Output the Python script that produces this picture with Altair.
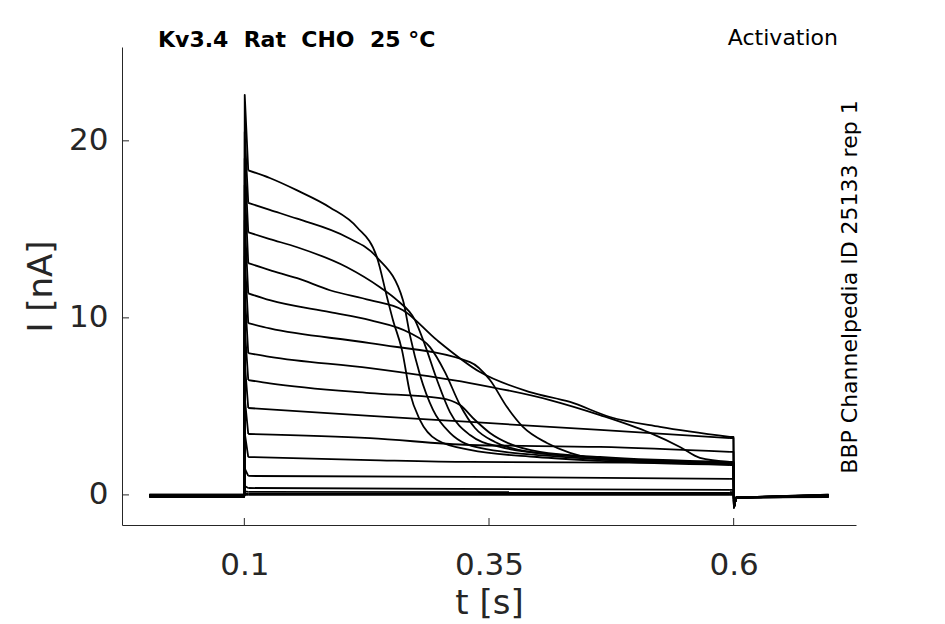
import altair as alt
import pandas as pd

# ---------------- data ----------------
x_ticks = [0.1, 0.35, 0.6]
y_ticks = [0, 10, 20]

title_left = "Kv3.4 \u00a0Rat \u00a0CHO \u00a025 °C"
title_right = "Activation"
side_label = "BBP Channelpedia ID 25133 rep 1"

# holding level of each sweep before and after the pulse
t_pre = [0.003, 0.0998]
holding = [-0.12, -0.08, -0.05, -0.02, 0.0, 0.02, -0.1, -0.06, -0.04, 0.01, -0.07, -0.03, -0.09, 0.0, -0.05, -0.11]
t_on = 0.1
t_peak = 0.1004
# tail after the pulse
t_post = [0.5998, 0.6003, 0.6025, 0.697]
i_dip = [-0.7, -0.15]

# capacitive peak of each sweep
peaks = [22.6, 20.5, 19.0, 17.5, 15.5, 13.5, 11.5, 9.5, 7.5, 5.5, 3.5, 1.5, 0.5, 0.2, 0.06, 0.0]

# sweeps during the pulse (time in s, current in nA)
t1 = [0.104, 0.126, 0.154, 0.1875, 0.2151, 0.2355, 0.2458, 0.2519, 0.2611, 0.2693, 0.2795, 0.2969, 0.3306, 0.399, 0.4634, 0.5962]
i1 = [18.33, 17.9, 17.2, 16.24, 15.12, 13.42, 11.17, 9.87, 8.18, 5.75, 4.23, 3.10, 2.54, 2.14, 1.92, 1.69]

t2 = [0.104, 0.126, 0.154, 0.2049, 0.2355, 0.2621, 0.2693, 0.2795, 0.2928, 0.3101, 0.3408, 0.4123, 0.5962]
i2 = [16.5, 16.1, 15.6, 14.55, 13.42, 11.0, 9.0, 6.77, 4.8, 3.5, 2.65, 2.2, 1.75]

t3 = [0.104, 0.126, 0.154, 0.2049, 0.2386, 0.2560, 0.2744, 0.2846, 0.2969, 0.3101, 0.3306, 0.3612, 0.4225, 0.5962]
i3 = [14.83, 14.45, 13.99, 12.86, 11.73, 11.0, 9.87, 8.46, 6.49, 4.68, 3.38, 2.71, 2.26, 1.80]

t4 = [0.104, 0.126, 0.154, 0.1875, 0.2284, 0.2621, 0.2969, 0.3408, 0.3919, 0.4328, 0.4736, 0.5247, 0.5962]
i4 = [13.09, 12.7, 12.24, 11.56, 11.0, 10.43, 8.74, 6.94, 5.81, 5.25, 4.40, 3.84, 3.27]

t5 = [0.104, 0.126, 0.1875, 0.2284, 0.2693, 0.2897, 0.3050, 0.3204, 0.3357, 0.3561, 0.3919, 0.4634, 0.5962]
i5 = [11.39, 11.0, 10.32, 9.87, 9.14, 8.35, 6.94, 5.08, 3.78, 2.99, 2.43, 2.09, 1.75]

t6 = [0.104, 0.126, 0.2284, 0.3306, 0.3510, 0.3684, 0.3847, 0.4092, 0.4328, 0.4736, 0.5962]
i6 = [9.70, 9.4, 8.57, 7.50, 6.49, 4.96, 3.84, 2.93, 2.37, 1.97, 1.80]

t7 = [0.104, 0.126, 0.2284, 0.3306, 0.4123, 0.4634, 0.5145, 0.5451, 0.5655, 0.5962]
i7 = [8.01, 7.8, 7.16, 6.32, 5.36, 4.51, 3.50, 2.71, 2.09, 1.86]

t8 = [0.104, 0.126, 0.2284, 0.2999, 0.3204, 0.3357, 0.351, 0.3714, 0.4021, 0.4634, 0.5962]
i8 = [6.49, 6.3, 5.75, 5.47, 5.08, 4.23, 3.5, 2.88, 2.43, 2.14, 1.86]

t9 = [0.104, 0.2284, 0.3306, 0.4634, 0.5962]
i9 = [4.91, 4.46, 4.12, 3.67, 3.21]

t10 = [0.104, 0.2284, 0.3306, 0.4634, 0.5962]
i10 = [3.44, 3.21, 2.82, 2.71, 2.43]

t11 = [0.104, 0.2284, 0.3306, 0.5962]
i11 = [2.14, 1.97, 1.86, 1.80]

t12 = [0.104, 0.3306, 0.5962]
i12 = [1.07, 1.02, 0.90]

t13 = [0.104, 0.5962]
i13 = [0.39, 0.28]

t14 = [0.104, 0.5962]
i14 = [0.17, 0.15]

t15 = [0.104, 0.5962]
i15 = [0.06, 0.05]

t16 = [0.104, 0.5962]
i16 = [0.0, 0.0]

sweeps_t = [t1, t2, t3, t4, t5, t6, t7, t8, t9, t10, t11, t12, t13, t14, t15, t16]
sweeps_i = [i1, i2, i3, i4, i5, i6, i7, i8, i9, i10, i11, i12, i13, i14, i15, i16]

# ---------------- build the tables ----------------
onset_rows, pulse_rows, tail_rows = [], [], []
for k, (ts, cs) in enumerate(zip(sweeps_t, sweeps_i)):
    h = holding[k]
    # before the pulse and capacitive transient
    for s, (a, b) in enumerate(zip(t_pre + [t_on, t_peak, ts[0]], [h, h, 0.0, peaks[k], cs[0]])):
        onset_rows.append({"trace": k, "seq": s, "t": a, "i": b})
    # the pulse itself
    for s, (a, b) in enumerate(zip(ts, cs)):
        pulse_rows.append({"trace": k, "seq": s, "t": a, "i": b})
    # end of the pulse and tail
    for s, (a, b) in enumerate(zip([ts[-1]] + t_post, [cs[-1], cs[-1]] + i_dip + [h])):
        tail_rows.append({"trace": k, "seq": s, "t": a, "i": b})

W, H = 734, 478
xs = alt.Scale(domain=[-0.025, 0.725], nice=False, zero=False)
ys = alt.Scale(domain=[-1.7, 25.3], nice=False, zero=False)

xenc = alt.X("t:Q", scale=xs, axis=alt.Axis(values=x_ticks, format="~g", title="t [s]",
                                            labelPadding=25, titlePadding=6))
yenc = alt.Y("i:Q", scale=ys, axis=alt.Axis(values=y_ticks, format="~g", title="I [nA]",
                                            labelPadding=14, titlePadding=10))


def sweep_layer(rows, interp):
    return alt.Chart(pd.DataFrame(rows)).mark_line(
        color="black", strokeWidth=1.8, strokeJoin="round", interpolate=interp, clip=True
    ).encode(x=xenc, y=yenc, detail="trace:N", order="seq:Q")


onset = sweep_layer(onset_rows, "linear")
pulse = sweep_layer(pulse_rows, "monotone")
tail = sweep_layer(tail_rows, "linear")

xt = alt.Chart(pd.DataFrame({"t": x_ticks})).mark_rule(color="#262626", strokeWidth=1).encode(
    x=alt.X("t:Q", scale=xs), y=alt.value(H - 7), y2=alt.value(H)
)
yt = alt.Chart(pd.DataFrame({"i": y_ticks})).mark_rule(color="#262626", strokeWidth=1).encode(
    y=alt.Y("i:Q", scale=ys), x=alt.value(0), x2=alt.value(7)
)

tl = alt.Chart(pd.DataFrame({"s": [title_left]})).mark_text(
    align="left", baseline="middle", fontSize=22, fontWeight="bold", font="DejaVu Sans", color="black"
).encode(text="s:N", x=alt.value(36), y=alt.value(-7))

tr = alt.Chart(pd.DataFrame({"s": [title_right]})).mark_text(
    align="right", baseline="middle", fontSize=22, font="DejaVu Sans", color="black"
).encode(text="s:N", x=alt.value(716), y=alt.value(-9))

sd = alt.Chart(pd.DataFrame({"s": [side_label]})).mark_text(
    align="center", baseline="middle", fontSize=22, font="DejaVu Sans", color="black", angle=270
).encode(text="s:N", x=alt.value(728), y=alt.value(240))

chart = alt.layer(onset, pulse, tail, xt, yt, tl, tr, sd).properties(
    width=W, height=H,
    padding={"left": 114, "top": 39, "right": 60, "bottom": 97},
    autosize=alt.AutoSizeParams(type="none"),
).configure_view(stroke=None).configure_axis(
    grid=False, ticks=False, domainColor="#262626", domainWidth=1,
    labelColor="#262626", titleColor="#262626",
    labelFont="DejaVu Sans", titleFont="DejaVu Sans",
    labelFontSize=31, titleFontSize=34, titleFontWeight="normal",
)

chart.save("out.html", embed_options={"renderer": "svg", "actions": False})
